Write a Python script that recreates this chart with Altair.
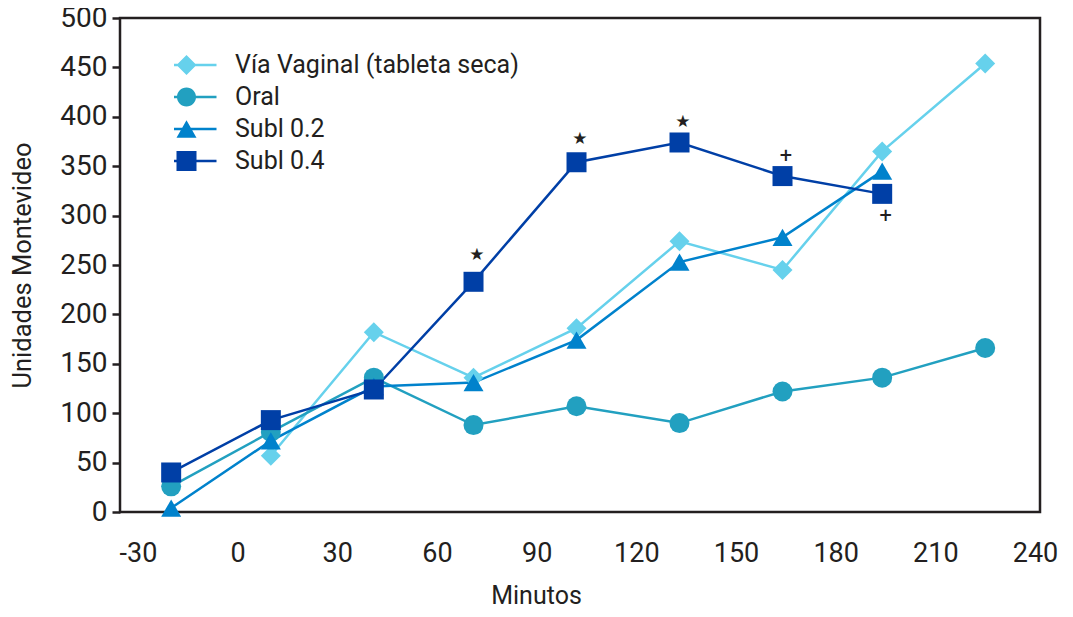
import altair as alt
import pandas as pd

series = ["Vía Vaginal (tableta seca)", "Oral", "Subl 0.2", "Subl 0.4"]
colors = ["#66d1ec", "#22a0c0", "#0082cc", "#003fa6"]

vag_min = [10, 41, 71, 102, 133, 164, 194, 225]
vag_val = [57, 182, 136, 186, 274, 245, 365, 454]

oral_min = [-20, 10, 41, 71, 102, 133, 164, 194, 225]
oral_val = [26, 81, 136, 88, 107, 90, 122, 136, 166]

s2_min = [-20, 10, 41, 71, 102, 133, 164, 194]
s2_val = [4, 72, 127, 131, 174, 253, 278, 345]

s4_min = [-20, 10, 41, 71, 102, 133, 164, 194]
s4_val = [40, 93, 124, 233, 354, 374, 340, 322]

note_min = [72, 103, 134, 165, 195]
note_val = [260, 378, 395, 360, 300]
note_txt = ["★", "★", "★", "+", "+"]

x_ticks = [-30, 0, 30, 60, 90, 120, 150, 180, 210, 240]
y_ticks = [0, 50, 100, 150, 200, 250, 300, 350, 400, 450, 500]

rows = []
for name, xs, ys in [(series[0], vag_min, vag_val), (series[1], oral_min, oral_val),
                     (series[2], s2_min, s2_val), (series[3], s4_min, s4_val)]:
    for a, b in zip(xs, ys):
        rows.append({"minuto": a, "valor": b, "serie": name, "orden": series.index(name)})
df = pd.DataFrame(rows)
notes = pd.DataFrame({"minuto": note_min, "valor": note_val, "txt": note_txt})

FONT = "Roboto"
DARK = "#231f20"

xscale = alt.Scale(domain=[-35.4, 241.5], nice=False, zero=False)
yscale = alt.Scale(domain=[0, 500], nice=False)

xenc = alt.X("minuto:Q", scale=xscale,
             axis=alt.Axis(values=x_ticks, title="Minutos", ticks=False, domain=False, grid=False,
                           labelExpr="'' + datum.value",
                           labelFontSize=27, labelColor=DARK, labelPadding=28, labelFont=FONT,
                           titleFontSize=25, titleFontWeight="normal", titleColor=DARK, titleFont=FONT,
                           titleX=416, titleY=71, titleBaseline="top", labelFlush=False))
yenc = alt.Y("valor:Q", scale=yscale,
             axis=alt.Axis(values=y_ticks, title="Unidades Montevideo", domain=False, grid=False,
                           tickSize=8, tickWidth=2.5, tickColor=DARK,
                           labelFontSize=28, labelColor=DARK, labelPadding=5, labelFont=FONT,
                           titleFontSize=25.5, titleFontWeight="normal", titleColor=DARK, titleFont=FONT,
                           titleX=-98, titleY=247, titleAngle=-90, titleBaseline="middle",
                           titleAlign="center", labelFlush=False))

cscale = alt.Scale(domain=series, range=colors)

lines = alt.Chart(df).mark_line(strokeWidth=2.5).encode(
    x=xenc, y=yenc,
    color=alt.Color("serie:N", scale=cscale, legend=None),
    order="minuto:Q",
)

points = alt.Chart(df).mark_point(filled=True, size=400, opacity=1).encode(
    x=xenc, y=yenc,
    color=alt.Color("serie:N", scale=cscale, legend=None),
    shape=alt.Shape("serie:N", scale=alt.Scale(domain=series,
                    range=["diamond", "circle", "triangle-up", "square"]), legend=None),
    order="orden:Q",
)

line_seg = "M-3,-0.13H3V0.13H-3Z"
leg_paths = [
    "M0,-1L1,0L0,1L-1,0Z" + line_seg,
    "M0.95,0A0.95,0.95 0 1,1 -0.95,0A0.95,0.95 0 1,1 0.95,0Z" + line_seg,
    "M0,-0.866L1,0.866H-1Z" + line_seg,
    "M-1,-1H1V1H-1Z" + line_seg,
]

legend = alt.Legend(title=None, orient="none", legendX=54, legendY=36, padding=0,
                    symbolSize=400, labelFontSize=25, labelFont=FONT, labelColor=DARK,
                    labelOffset=36, rowPadding=7, clipHeight=22,
                    symbolStrokeWidth=0, symbolOpacity=1, labelLimit=400)

legend_layer = alt.Chart(df).transform_filter("false").mark_point(filled=True, size=400).encode(
    x=xenc, y=yenc,
    color=alt.Color("serie:N", scale=cscale, legend=legend),
    shape=alt.Shape("serie:N", scale=alt.Scale(domain=series, range=leg_paths), legend=legend),
)

marks = alt.Chart(notes).mark_text(font="DejaVu Sans", fontSize=17, fontWeight="bold", color=DARK,
                                    baseline="middle").encode(
    x=alt.X("minuto:Q", scale=xscale), y=alt.Y("valor:Q", scale=yscale), text="txt:N")

chart = alt.layer(lines, points, marks, legend_layer).resolve_scale(
    shape="independent", color="independent"
).resolve_legend(shape="independent", color="independent").properties(
    width=920, height=494,
    background="white",
    autosize=alt.AutoSizeParams(type="none"),
    padding={"left": 112, "top": 10, "right": 25, "bottom": 97},
).configure_view(stroke=DARK, strokeWidth=2.5)

chart.save("out.html", embed_options={"renderer": "svg", "actions": False})
